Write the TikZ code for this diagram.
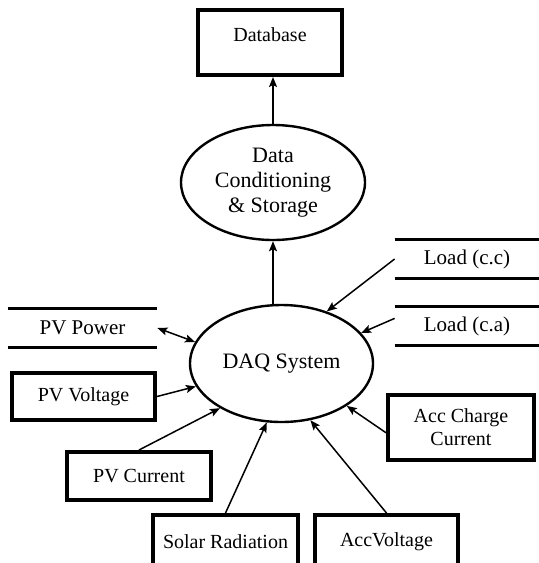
\documentclass[tikz,border=0pt]{standalone}
\usepackage{fontspec}
\setmainfont{Liberation Serif}
\usetikzlibrary{shapes.geometric, arrows.meta}

\begin{document}
\begin{tikzpicture}[
    x=0.5pt, y=-0.5pt,
    >={Stealth[length=5pt, width=4pt, inset=1pt]},
    box/.style={draw, line width=2pt, inner sep=0pt, align=center,
        font=\fontsize{10}{11.5}\selectfont},
    process/.style={ellipse, draw, line width=1.2pt, inner sep=0pt, align=center,
        font=\fontsize{11}{12.5}\selectfont},
    store/.style={inner sep=0pt, minimum height=19pt, font=\fontsize{10.5}{12}\selectfont},
    storeline/.style={line width=1.8pt},
    flow/.style={->, line width=0.75pt}
]
\clip (0,0) rectangle (539,563);
\node[box, minimum width=72pt, text height=15.5pt, text depth=17pt] (db) at (270,42.5) {Database};
\node[process, minimum width=92pt, minimum height=57.5pt] (dcs) at (273,182.5) {Data\\Conditioning\\\& Storage};
\node[process, minimum width=91.5pt, minimum height=58.5pt] (daq) at (281.5,363.5) {DAQ System};
\node[store, minimum width=72pt] (loadcc) at (467,259) {Load (c.c)};
\node[store, minimum width=72pt] (loadca) at (467,326) {Load (c.a)};
\node[store, minimum width=74.5pt] (pvpow) at (82.5,328) {PV Power};
\node[box, minimum width=71.5pt, minimum height=23.5pt] (pvvol) at (83.5,396.5) {PV Voltage};
\node[box, minimum width=72pt, minimum height=24pt] (pvcur) at (139,476) {PV Current};
\node[box, minimum width=73pt, minimum height=32.5pt] (acc) at (461,427.5) {Acc Charge\\Current};
\node[box, minimum width=72.5pt, minimum height=27pt] (solar) at (225.5,542) {Solar Radiation};
\node[box, minimum width=71.5pt, minimum height=27pt] (accv) at (386.5,542) {AccVoltage};

% store lines
\draw[storeline] (loadcc.north west) -- (loadcc.north east) (loadcc.south west) -- (loadcc.south east);
\draw[storeline] (loadca.north west) -- (loadca.north east) (loadca.south west) -- (loadca.south east);
\draw[storeline] (pvpow.north west) -- (pvpow.north east) (pvpow.south west) -- (pvpow.south east);

% flows
\draw[flow] (dcs.north) -- (dcs.north |- db.south);
\draw[flow] (dcs.south |- daq.north) -- (dcs.south);
\draw[<->, line width=0.75pt] (pvpow.east) -- (daq.166);
\draw[flow] (pvvol.east) -- (daq.195);
\draw[flow] (pvcur.north) -- (daq.216);
\draw[flow] (solar.north) -- (daq.256);
\draw[flow] (accv.north) -- (daq.297);
\draw[flow] (acc.184) -- (daq.327);
\draw[flow] (loadca.174) -- (daq.21);
\draw[flow] (loadcc.west) -- (daq.49);
\end{tikzpicture}
\end{document}
